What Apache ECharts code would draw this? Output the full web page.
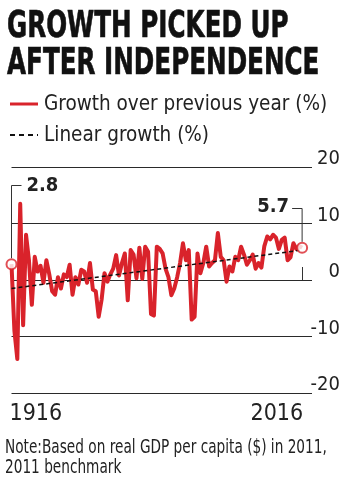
<!DOCTYPE html>
<html>
<head>
<meta charset="utf-8">
<script src="https://cdn.jsdelivr.net/npm/echarts@6/dist/echarts.min.js"></script>
<style>
html,body{margin:0;padding:0;background:#fff;}
#chart{width:347px;height:477px;}
</style>
</head>
<body>
<div id="chart"></div>
<script>
// ---- data ----
const startYear = 1916;
const growth = [
  2.8, -9, -14, 13.5, -8, 8, 3.5, -4.4, 4.1, 1.5,
  2.5, -0.5, 3.5, 1.0, -2.0, -2.6, 0.5, -1.5, 1.0, 0.5,
  2.7, -2.6, 0.5, -0.8, 1.8, 1.5, -0.5, 3.0, -1.7, -2.0,
  -6.5, -3.5, 1.2, -0.3, 1.0, 2.0, 4.4, 0.8, 3.0, 4.7,
  -3.6, 5.3, 4.5, 0.3, 5.7, 0.2, 5.9, 5.0, -6.0, -6.3,
  5.9, 5.5, 4.7, 2.0, 0.5, -2.7, -1.5, 0.5, 3.0, 6.5,
  3.5, 5.3, -7.0, -6.5, 4.7, 1.2, 3.0, 5.9, 2.4, 3.0,
  3.5, 8.3, 4.1, 3.5, -0.3, 2.4, 1.5, 4.1, 3.5, 5.9,
  4.5, 2.7, 3.5, 4.5, 2.0, 3.0, 2.2, 6.0, 7.7, 7.2,
  8.0, 7.5, 5.5, 7.1, 7.5, 3.5, 4.0, 6.5, 5.5, 6.0, 5.7
];
const years = growth.map((_, i) => startYear + i);
const trendYears = [1916, 2016];
const trendValues = [-1.5, 5.3];
const xTickYears = [1916, 2016];
const xTickLabels = ['1916', '2016'];
const endLabels = ['2.8', '5.7'];
const yTicks = [-20, -10, 0, 10, 20];

const titleLines = ['GROWTH PICKED UP', 'AFTER INDEPENDENCE'];
const legendNames = ['Growth over previous year (%)', 'Linear growth (%)'];
const noteLines = ['Note:Based on real GDP per capita ($) in 2011,', '2011 benchmark'];

// ---- style ----
const RED = '#d9232b';
const FONT = '"DejaVu Sans Condensed", "DejaVu Sans", sans-serif';

const chart = echarts.init(document.getElementById('chart'), null, {renderer: 'canvas'});

const option = {
  backgroundColor: '#fff',
  animation: false,
  grid: {left: 11.5, right: 35, top: 167, bottom: 84, containLabel: false, outerBoundsMode: 'none'},
  xAxis: {
    type: 'value',
    min: 1916,
    max: 2019.4,
    axisLine: {show: false},
    splitLine: {show: false},
    axisTick: {show: true, inside: true, length: 13, customValues: xTickYears, lineStyle: {color: '#333', width: 1}},
    axisLabel: {show: false}
  },
  yAxis: {
    type: 'value',
    position: 'right',
    min: yTicks[0],
    max: yTicks[yTicks.length - 1],
    interval: 10,
    axisLine: {show: false},
    axisTick: {show: false},
    splitLine: {show: true, lineStyle: {color: '#2a2a2a', width: 1}},
    axisLabel: {
      align: 'right', margin: 28, verticalAlign: 'bottom',
      fontFamily: FONT, fontSize: 20, color: '#222', padding: [0, 0, -2, 0]
    }
  },
  series: [
    {
      name: legendNames[0],
      type: 'line',
      data: years.map((y, i) => [y, growth[i]]),
      showSymbol: false,
      lineStyle: {color: RED, width: 4, join: 'round'},
      z: 2
    },
    {
      name: legendNames[1],
      type: 'line',
      data: trendYears.map((y, i) => [y, trendValues[i]]),
      showSymbol: false,
      lineStyle: {color: '#111', width: 1.5, type: [4, 3]},
      z: 3
    },
    {
      name: 'ends',
      type: 'scatter',
      data: [[years[0], growth[0]], [years[years.length - 1], growth[growth.length - 1]]],
      symbol: 'circle',
      symbolSize: 10,
      itemStyle: {color: '#fff', borderColor: RED, borderWidth: 2},
      z: 5
    }
  ]
};
chart.setOption(option);

const p0 = chart.convertToPixel({xAxisIndex: 0, yAxisIndex: 0}, [years[0], growth[0]]);
const p1 = chart.convertToPixel({xAxisIndex: 0, yAxisIndex: 0}, [years[years.length - 1], growth[growth.length - 1]]);
const t0 = chart.convertToPixel({xAxisIndex: 0, yAxisIndex: 0}, [xTickYears[0], yTicks[0]]);
const t1 = chart.convertToPixel({xAxisIndex: 0, yAxisIndex: 0}, [xTickYears[1], yTicks[0]]);

const graphics = [
  // title
  {type: 'text', x: 7, y: 27, scaleX: 0.74, style: {text: titleLines[0], font: 'bold 37px ' + FONT, fill: '#111', verticalAlign: 'middle', stroke: '#111', lineWidth: 0.6}},
  {type: 'text', x: 7, y: 64, scaleX: 0.74, style: {text: titleLines[1], font: 'bold 37px ' + FONT, fill: '#111', verticalAlign: 'middle', stroke: '#111', lineWidth: 0.6}},
  // legend
  {type: 'line', shape: {x1: 10, y1: 104, x2: 38, y2: 104}, style: {stroke: RED, lineWidth: 3}},
  {type: 'text', x: 44, y: 104.5, style: {text: legendNames[0], font: '20.5px ' + FONT, fill: '#222', verticalAlign: 'middle'}},
  {type: 'line', shape: {x1: 10, y1: 135, x2: 38, y2: 135}, style: {stroke: '#111', lineWidth: 2, lineDash: [5, 4]}},
  {type: 'text', x: 44, y: 135.5, style: {text: legendNames[1], font: '20.5px ' + FONT, fill: '#222', verticalAlign: 'middle'}},
  // x labels
  {type: 'text', x: t0[0] - 2, y: 414, style: {text: xTickLabels[0], font: '23px ' + FONT, fill: '#222', verticalAlign: 'middle', align: 'left'}},
  {type: 'text', x: t1[0] + 1, y: 414, style: {text: xTickLabels[1], font: '23px ' + FONT, fill: '#222', verticalAlign: 'middle', align: 'right'}},
  // annotations
  {type: 'polyline', shape: {points: [[p0[0], p0[1] - 6], [p0[0], 185.5], [p0[0] + 10, 185.5]]}, style: {stroke: '#333', lineWidth: 1, fill: null}, z: 10},
  {type: 'text', x: p0[0] + 15, y: 186, style: {text: endLabels[0], font: 'bold 20px ' + FONT, fill: '#222', verticalAlign: 'middle'}, z: 10},
  {type: 'polyline', shape: {points: [[p1[0], p1[1] - 6], [p1[0], 208.5], [p1[0] - 10, 208.5]]}, style: {stroke: '#333', lineWidth: 1, fill: null}, z: 10},
  {type: 'text', x: p1[0] - 13, y: 207, style: {text: endLabels[1], font: 'bold 20px ' + FONT, fill: '#222', verticalAlign: 'middle', align: 'right'}, z: 10},
  // note
  {type: 'text', x: 5, y: 448, scaleX: 0.8, style: {text: noteLines[0], font: '19px ' + FONT, fill: '#222', verticalAlign: 'middle'}},
  {type: 'text', x: 5, y: 468, scaleX: 0.8, style: {text: noteLines[1], font: '19px ' + FONT, fill: '#222', verticalAlign: 'middle'}}
];
chart.setOption({graphic: graphics});
</script>
</body>
</html>
